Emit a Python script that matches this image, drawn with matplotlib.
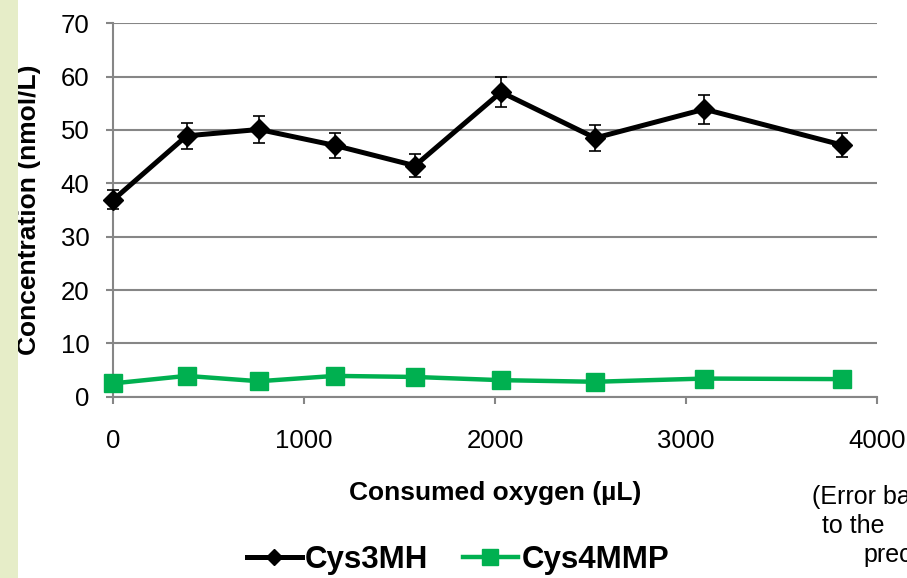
import matplotlib
matplotlib.use("Agg")
import matplotlib.pyplot as plt
from matplotlib.patches import Rectangle

plt.rcParams['font.family'] = ['Liberation Sans', 'DejaVu Sans']

# Data
oxygen = [0, 384, 763, 1161, 1580, 2031, 2524, 3096, 3815]
cys3mh = [36.9, 48.9, 50.1, 47.1, 43.3, 57.1, 48.5, 53.9, 47.2]
cys3mh_err = [1.8, 2.4, 2.5, 2.35, 2.15, 2.85, 2.45, 2.7, 2.3]
cys4mmp = [2.5, 3.9, 2.9, 3.9, 3.7, 3.1, 2.8, 3.4, 3.3]
x_ticks = [0, 1000, 2000, 3000, 4000]
y_ticks = [0, 10, 20, 30, 40, 50, 60, 70]

W, H = 907, 578
fig = plt.figure(figsize=(W / 100, H / 100), dpi=100)

# decorative left strip
fig.patches.append(Rectangle((0, 0), 18 / W, 1, transform=fig.transFigure,
                             facecolor='#E6EDC8', edgecolor='none', zorder=0))

ax = fig.add_axes([113.3 / W, (H - 396.7) / H, (877 - 113.3) / W, (396.7 - 23.3) / H])
ax.set_xlim(0, 4000)
ax.set_ylim(0, 70)
ax.set_xticks(x_ticks)
ax.set_yticks(y_ticks)

grid_c = '#868686'
ax.yaxis.grid(True, color=grid_c, linewidth=1.5)
ax.set_axisbelow(True)
for s in ['top', 'right']:
    ax.spines[s].set_visible(False)
for s in ['left', 'bottom']:
    ax.spines[s].set_color(grid_c)
    ax.spines[s].set_linewidth(1.5)
ax.tick_params(axis='both', colors=grid_c, length=5.2, width=1.5, labelsize=18.5,
               labelcolor='black', direction='out')
ax.tick_params(axis='x', pad=18)
ax.tick_params(axis='y', pad=12)

ax.errorbar(oxygen, cys3mh, yerr=cys3mh_err, color='black', linewidth=3.6,
            marker='D', markersize=10, ecolor='black', elinewidth=1.2,
            capsize=4.5, capthick=1.2, label='Cys3MH', zorder=3, clip_on=False)
ax.plot(oxygen, cys4mmp, color='#00B050', linewidth=3.2, marker='s',
        markersize=13.5, label='Cys4MMP', zorder=3, clip_on=False)

ax.set_xlabel('Consumed oxygen (µL)', fontsize=19, fontweight='bold', labelpad=20)
ax.set_ylabel('Concentration (nmol/L)', fontsize=19, fontweight='bold', labelpad=14)

h1, = ax.plot([], [], color='black', linewidth=3.6, marker='D', markersize=8)
h2, = ax.plot([], [], color='#00B050', linewidth=3.2, marker='s', markersize=11)
fig.legend([h1, h2], ['Cys3MH', 'Cys4MMP'], loc='center', bbox_to_anchor=(458 / W, 1 - 560 / H),
           ncol=2, frameon=False, prop={'size': 22.5, 'weight': 'bold'},
           handlelength=1.75, handletextpad=0.12, columnspacing=1.1)

fig.text(812 / W, 1 - 497 / H, '(Error bars', fontsize=18, ha='left', va='center')
fig.text(822 / W, 1 - 526 / H, 'to the', fontsize=18, ha='left', va='center')
fig.text(863 / W, 1 - 555 / H, 'precision)', fontsize=18, ha='left', va='center')

fig.savefig('out.png', dpi=100)
